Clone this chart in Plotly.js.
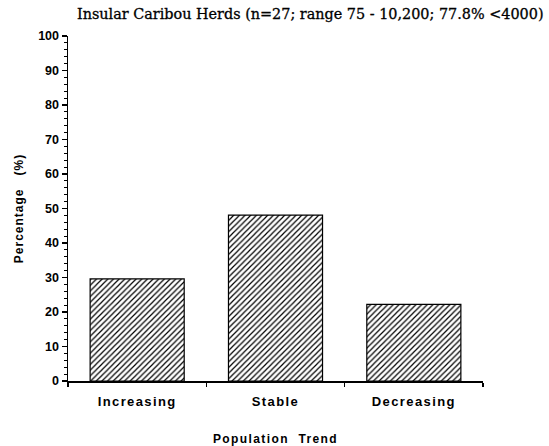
<!DOCTYPE html>
<html><head><meta charset="utf-8">
<script src="https://cdn.plot.ly/plotly-3.0.1.min.js"></script>
<style>
html,body{margin:0;padding:0;background:#fff;}
#chart{width:549px;height:446px;}
.xtick text{letter-spacing:1.4px;}
.g-xtitle text{letter-spacing:1.4px;}
.g-ytitle text{letter-spacing:1px;}
.gtitle{stroke:#000;stroke-width:0.3px;}
</style>
</head><body>
<div id="chart"></div>
<script>
const categories = ["Increasing", "Stable", "Decreasing"];
const percentages = [29.6, 48.1, 22.2];
const yTickValues = [0,10,20,30,40,50,60,70,80,90,100];

const trace = {
  type: 'bar',
  x: categories,
  y: percentages,
  width: 0.68,
  marker: {
    color: '#ffffff',
    line: {color: '#000', width: 1.2},
    pattern: {shape: '/', fgcolor: '#000', bgcolor: '#fff', size: 4, solidity: 0.3}
  },
  hoverinfo: 'skip'
};

const layout = {
  width: 549, height: 446,
  margin: {l: 68, r: 66, t: 36, b: 65},
  paper_bgcolor: '#fff', plot_bgcolor: '#fff',
  showlegend: false,
  title: {
    text: 'Insular Caribou Herds (n=27; range 75 - 10,200; 77.8% <4000)',
    font: {family: 'DejaVu Serif', size: 14.4, color: '#000'},
    xref: 'container', x: 77/549, xanchor: 'left',
    yref: 'container', y: 1 - 14/446, yanchor: 'middle'
  },
  xaxis: {
    type: 'category',
    range: [-0.5, 2.5],
    showline: true, linecolor: '#000', linewidth: 1.5,
    ticks: 'outside', tickson: 'boundaries', ticklen: 4, tickcolor: '#000', tickwidth: 1.5,
    ticklabelstandoff: 8,
    showgrid: false, zeroline: false,
    tickfont: {family: 'Liberation Sans', size: 13, color: '#000', weight: 'bold'},
    title: {text: 'Population  Trend', font: {family: 'Liberation Sans', size: 12, color: '#000', weight: 'bold'}, standoff: 38}
  },
  yaxis: {
    range: [0, 100],
    tickvals: yTickValues,
    showline: true, linecolor: '#000', linewidth: 1.5,
    ticks: 'outside', ticklen: 5, tickcolor: '#000', tickwidth: 1.5,
    minor: {dtick: 2, ticks: 'outside', ticklen: 3, tickcolor: '#000', tickwidth: 1},
    showgrid: false, zeroline: false,
    tickfont: {family: 'Liberation Sans', size: 12.5, color: '#000', weight: 'bold'},
    title: {text: 'Percentage   (%)', font: {family: 'Liberation Sans', size: 12, color: '#000', weight: 'bold'}, standoff: 12}
  }
};

Plotly.newPlot('chart', [trace], layout, {staticPlot: true, displayModeBar: false});
</script>
</body></html>
